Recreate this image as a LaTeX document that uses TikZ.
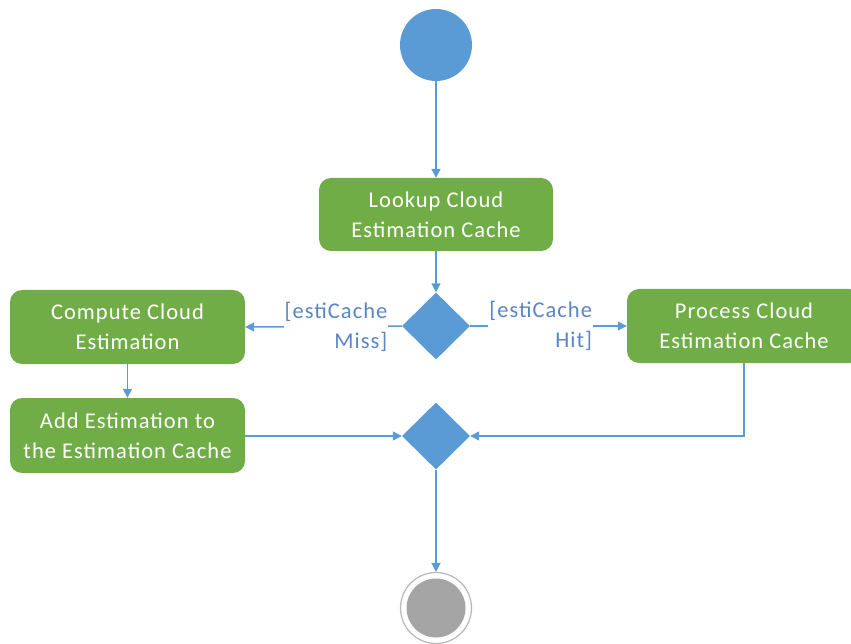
\documentclass[tikz,border=0pt]{standalone}
\usepackage{fontspec}
\setmainfont[LetterSpace=4.5]{Carlito}
\usetikzlibrary{arrows.meta,shapes.geometric}
\definecolor{actgreen}{HTML}{70AD47}
\definecolor{flowblue}{HTML}{5B9BD5}
\definecolor{labelblue}{HTML}{5A86C5}
\definecolor{endgrey}{HTML}{A5A5A5}
\begin{document}
\begin{tikzpicture}[x=1pt,y=-1pt,
  action/.style={draw=none,fill=actgreen,rounded corners=12pt,text=white,
    font=\fontsize{22.5}{30}\selectfont,align=center,inner sep=0pt},
  decision/.style={diamond,fill=flowblue,draw=none,minimum width=68pt,minimum height=67pt,inner sep=0pt},
  flow/.style={draw=flowblue,line width=1.5pt,-{Triangle[length=9pt,width=9pt]}},
  guard/.style={text=labelblue,font=\fontsize{22.5}{30}\selectfont,align=right,fill=white,inner sep=1pt}]
\path[clip,use as bounding box] (0,0) rectangle (851,644);
% nodes
\node[circle,fill=flowblue,minimum size=72pt,inner sep=0pt] (start) at (436,45) {};
\node[action,minimum width=234pt,minimum height=73pt] (lookup) at (436,214.5) {Lookup Cloud\\Estimation Cache};
\node[decision] (d1) at (436,326) {};
\node[action,minimum width=235pt,minimum height=74pt] (compute) at (127.5,327) {Compute Cloud\\Estimation};
\node[action,minimum width=234pt,minimum height=74pt] (process) at (744,326) {Process Cloud\\Estimation Cache};
\node[action,minimum width=235pt,minimum height=75pt] (add) at (127.5,435.5) {Add Estimation to\\the Estimation Cache};
\node[decision] (d2) at (436,436) {};
\node[circle,draw=endgrey!80!white,line width=1.2pt,fill=white,minimum size=71pt,inner sep=0pt] (final) at (436,608) {};
\node[circle,fill=endgrey,minimum size=59pt,inner sep=0pt] (finalin) at (final.center) {};
\coordinate (corner) at (process.south |- d2.east);
% connectors
\draw[flow] (start) -- (lookup);
\draw[flow] (lookup) -- (d1);
\draw[flow] (d1.west) -- node[guard,pos=0.42] {[estiCache\\Miss]} (compute.east);
\draw[flow] (d1.east) -- node[guard,pos=0.45] {[estiCache\\Hit]} (process.west);
\draw[flow] (compute) -- (add);
\draw[flow] (add.east |- d2.west) -- (d2.west);
\draw[flow] (process.south) -- (corner) -- (d2.east);
\draw[flow] (d2.south) -- (final.north);
\end{tikzpicture}
\end{document}
